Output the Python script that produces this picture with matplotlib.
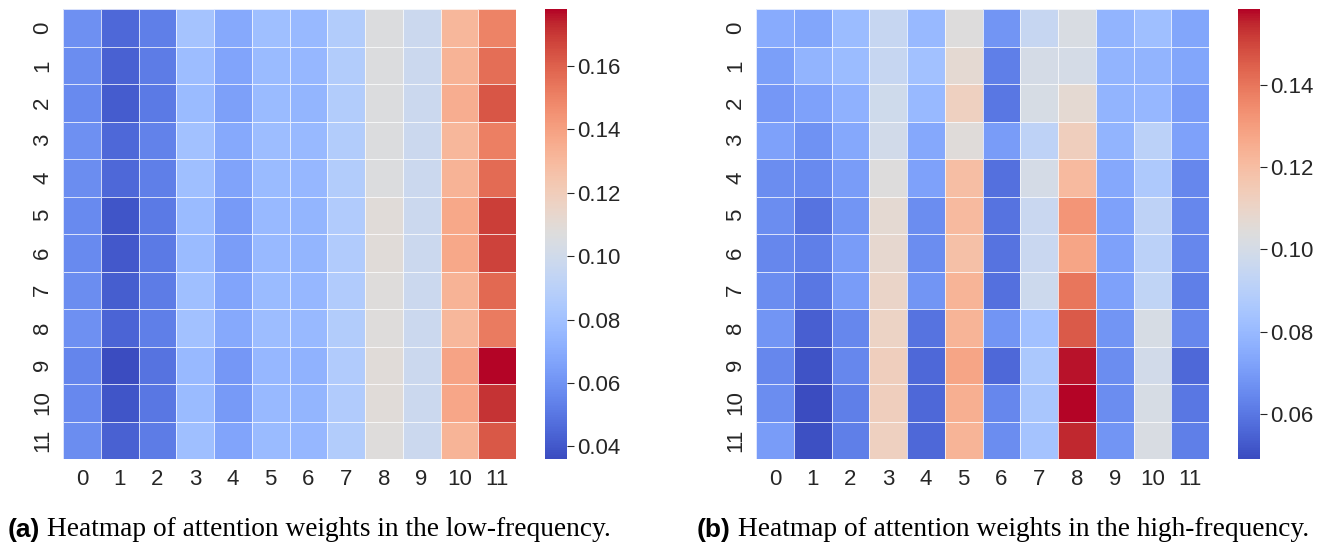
import numpy as np
import matplotlib
matplotlib.use("Agg")
import matplotlib.pyplot as plt
import seaborn as sns

labels = [str(i) for i in range(12)]

low_freq = [
    [0.059, 0.045, 0.053, 0.081, 0.069, 0.079, 0.076, 0.087, 0.106, 0.098, 0.131, 0.150],
    [0.058, 0.043, 0.052, 0.078, 0.067, 0.077, 0.075, 0.087, 0.106, 0.098, 0.133, 0.156],
    [0.057, 0.041, 0.051, 0.077, 0.065, 0.077, 0.074, 0.087, 0.106, 0.098, 0.135, 0.163],
    [0.059, 0.045, 0.054, 0.080, 0.069, 0.078, 0.076, 0.087, 0.106, 0.098, 0.131, 0.151],
    [0.058, 0.045, 0.053, 0.079, 0.066, 0.077, 0.075, 0.087, 0.106, 0.098, 0.133, 0.157],
    [0.057, 0.039, 0.051, 0.077, 0.063, 0.076, 0.074, 0.086, 0.109, 0.098, 0.137, 0.169],
    [0.057, 0.040, 0.051, 0.077, 0.064, 0.076, 0.074, 0.086, 0.109, 0.098, 0.137, 0.168],
    [0.058, 0.042, 0.052, 0.079, 0.067, 0.077, 0.075, 0.086, 0.108, 0.098, 0.133, 0.158],
    [0.059, 0.044, 0.053, 0.080, 0.069, 0.078, 0.076, 0.087, 0.108, 0.098, 0.131, 0.152],
    [0.055, 0.036, 0.049, 0.076, 0.062, 0.075, 0.073, 0.086, 0.109, 0.098, 0.139, 0.178],
    [0.056, 0.039, 0.050, 0.077, 0.063, 0.076, 0.074, 0.086, 0.109, 0.098, 0.138, 0.171],
    [0.058, 0.043, 0.052, 0.079, 0.067, 0.077, 0.075, 0.087, 0.108, 0.098, 0.132, 0.162],
]

high_freq = [
    [0.075, 0.073, 0.081, 0.095, 0.080, 0.104, 0.068, 0.095, 0.102, 0.078, 0.082, 0.073],
    [0.071, 0.078, 0.081, 0.095, 0.083, 0.107, 0.062, 0.100, 0.100, 0.078, 0.078, 0.073],
    [0.069, 0.072, 0.077, 0.098, 0.080, 0.112, 0.060, 0.101, 0.107, 0.078, 0.079, 0.070],
    [0.072, 0.067, 0.074, 0.099, 0.074, 0.105, 0.070, 0.092, 0.113, 0.078, 0.091, 0.072],
    [0.066, 0.065, 0.070, 0.104, 0.072, 0.120, 0.058, 0.100, 0.121, 0.074, 0.087, 0.064],
    [0.066, 0.059, 0.068, 0.107, 0.066, 0.121, 0.059, 0.096, 0.132, 0.072, 0.092, 0.064],
    [0.064, 0.062, 0.070, 0.108, 0.066, 0.119, 0.059, 0.096, 0.128, 0.072, 0.091, 0.064],
    [0.066, 0.060, 0.070, 0.110, 0.068, 0.123, 0.058, 0.097, 0.140, 0.072, 0.093, 0.062],
    [0.068, 0.054, 0.064, 0.111, 0.059, 0.123, 0.068, 0.083, 0.146, 0.068, 0.101, 0.064],
    [0.064, 0.051, 0.064, 0.113, 0.056, 0.128, 0.056, 0.086, 0.157, 0.066, 0.099, 0.056],
    [0.066, 0.049, 0.062, 0.113, 0.056, 0.125, 0.064, 0.085, 0.1585, 0.066, 0.101, 0.060],
    [0.070, 0.050, 0.062, 0.112, 0.056, 0.123, 0.066, 0.084, 0.155, 0.068, 0.102, 0.062],
]

caption_a = ("(a)", " Heatmap of attention weights in the low-frequency.")
caption_b = ("(b)", " Heatmap of attention weights in the high-frequency.")

W, H = 1325, 545
fig = plt.figure(figsize=(W / 100, H / 100), dpi=100)
fig.patch.set_facecolor("white")

def px(x0, y0, x1, y1):
    return [x0 / W, 1 - y1 / H, (x1 - x0) / W, (y1 - y0) / H]

fam = ["Liberation Sans", "DejaVu Sans"]
fsize = 16
tick_color = "#262626"

panels = [
    (low_freq, px(63, 9, 516, 459), px(545, 9, 567, 459)),
    (high_freq, px(756, 9, 1209, 459), px(1238, 9, 1260, 459)),
]

for data, hpos, cpos in panels:
    ax = fig.add_axes(hpos)
    cax = fig.add_axes(cpos)
    sns.heatmap(np.array(data), ax=ax, cbar_ax=cax, cmap="coolwarm",
                linewidths=0.6, linecolor=(1, 1, 1, 0.75),
                xticklabels=labels, yticklabels=labels)
    ax.tick_params(length=0, pad=7, colors=tick_color)
    for t in ax.get_xticklabels():
        t.set_fontfamily(fam); t.set_fontsize(fsize); t.set_rotation(0)
    for t in ax.get_yticklabels():
        t.set_fontfamily(fam); t.set_fontsize(fsize); t.set_rotation(90)
        t.set_va("center")
    cax.tick_params(length=5, width=0.8, colors=tick_color, pad=2)
    cax.yaxis.set_major_formatter(matplotlib.ticker.FormatStrFormatter("%.2f"))
    for t in cax.get_yticklabels():
        t.set_fontfamily(fam); t.set_fontsize(fsize)
    for s in cax.spines.values():
        s.set_visible(False)

for (bold, rest), x in [(caption_a, 8), (caption_b, 697)]:
    t1 = fig.text(x / W, 1 - 537 / H, bold, fontsize=19, fontweight="bold",
                  family=fam, va="baseline", ha="left")
    a = matplotlib.text.Annotation(rest, xy=(1, 0), xycoords=t1, va="bottom", ha="left",
                                   fontsize=19.7, family=["Liberation Serif", "DejaVu Serif"])
    a.set_figure(fig)
    fig.texts.append(a)

fig.savefig("out.png", dpi=100, facecolor="white")
